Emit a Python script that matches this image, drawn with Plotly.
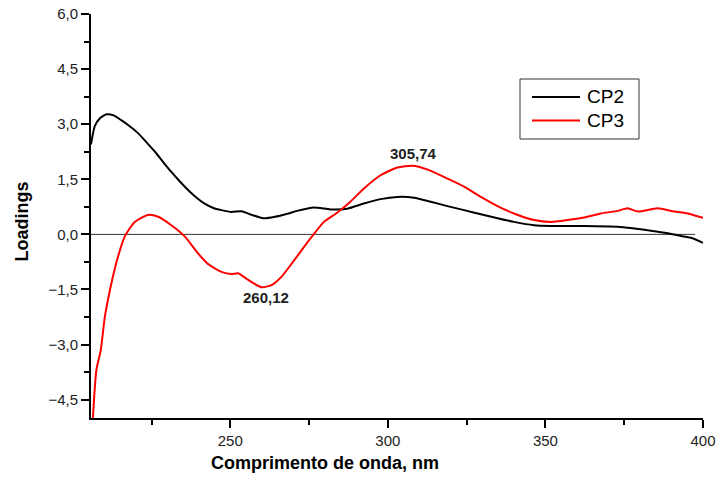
import plotly.graph_objects as go

# CP2 loadings
cp2_x = [205.8, 207, 208.5, 210.7, 213, 215.4, 218, 220.8, 223.5, 226.1, 228.7, 231.3, 234, 236.6,
         239.3, 242, 244.6, 247.2, 250.4, 253.6, 256.8, 260.5, 264.2, 268.4, 271.2, 276.5, 281.8,
         287.1, 292.4, 297.7, 303, 308.3, 313.6, 318.9, 324.2, 329.5, 334.8, 340, 346.4, 351.7,
         362.3, 372.9, 378.2, 383.5, 388.8, 394.1, 396.2, 400]
cp2_y = [2.45, 2.95, 3.15, 3.27, 3.24, 3.11, 2.95, 2.75, 2.50, 2.25, 1.97, 1.70, 1.44, 1.21,
         1.00, 0.83, 0.72, 0.66, 0.61, 0.63, 0.53, 0.44, 0.48, 0.57, 0.64, 0.73, 0.68,
         0.70, 0.84, 0.96, 1.02, 1.00, 0.89, 0.77, 0.66, 0.55, 0.44, 0.34, 0.25, 0.23,
         0.23, 0.21, 0.16, 0.10, 0.03, -0.06, -0.09, -0.23]

# CP3 loadings
cp3_x = [206.4, 207.5, 208.9, 210.2, 211.8, 213.9, 216.5, 219.7, 223.9, 227.1, 231.3, 235.6, 239.8,
         243, 247.2, 250.4, 252.5, 255.7, 259.9, 263.1, 266.3, 269.1, 272.3, 276, 279.7, 283.9,
         288.1, 292.4, 297.7, 303, 307.8, 312.5, 318.9, 324.2, 329.5, 334.8, 340, 346.4, 351.7,
         357, 362.3, 367.6, 372.9, 376.1, 379.3, 385.6, 390.9, 395.2, 400]
cp3_y = [-5.0, -3.70, -3.15, -2.24, -1.52, -0.75, -0.06, 0.34, 0.53, 0.48, 0.25, -0.06, -0.52,
         -0.81, -1.02, -1.08, -1.06, -1.24, -1.44, -1.38, -1.15, -0.84, -0.47, -0.05, 0.34, 0.59,
         0.89, 1.25, 1.61, 1.82, 1.87, 1.77, 1.52, 1.30, 1.02, 0.77, 0.57, 0.39, 0.34,
         0.39, 0.46, 0.57, 0.64, 0.71, 0.62, 0.71, 0.62, 0.57, 0.45]

zero_x = [205.8, 397.5]
zero_y = [0, 0]

peak_labels = ["260,12", "305,74"]
peak_x = [261.2, 308.2]
peak_y = [-1.73, 2.19]

series_names = ["CP2", "CP3"]
series_colors = ["black", "red"]

FONT = "Arial, Liberation Sans, sans-serif"

fig = go.Figure()
fig.add_trace(go.Scatter(x=zero_x, y=zero_y, mode="lines", line=dict(color="#333333", width=1),
                         showlegend=False, hoverinfo="skip"))
fig.add_trace(go.Scatter(x=cp2_x, y=cp2_y, mode="lines", name=series_names[0], showlegend=False,
                         line=dict(color=series_colors[0], width=2, shape="spline", smoothing=0.6)))
fig.add_trace(go.Scatter(x=cp3_x, y=cp3_y, mode="lines", name=series_names[1], showlegend=False,
                         line=dict(color=series_colors[1], width=2, shape="spline", smoothing=0.6)))

for t, x, y in zip(peak_labels, peak_x, peak_y):
    fig.add_annotation(x=x, y=y, text="<b>%s</b>" % t, showarrow=False,
                       font=dict(family=FONT, size=15, color="#222222"))

# axis titles
fig.add_annotation(x=0.382, y=-0.111, xref="paper", yref="paper", text="<b>Comprimento de onda, nm</b>",
                   showarrow=False, xanchor="center", yanchor="middle",
                   font=dict(family=FONT, size=18, color="black"))
fig.add_annotation(x=-0.112, y=0.4876, xref="paper", yref="paper", text="<b>Loadings</b>",
                   textangle=-90, showarrow=False, xanchor="center", yanchor="middle",
                   font=dict(family=FONT, size=18, color="black"))

# legend box (paper coordinates)
L, R, T, B = 91, 703, 14, 418
def px(x):
    return (x - L) / (R - L)
def py(y):
    return (B - y) / (B - T)

fig.add_shape(type="rect", xref="paper", yref="paper", x0=px(520), x1=px(639), y0=py(139), y1=py(79),
              line=dict(color="#333333", width=1), fillcolor="white", layer="above")
for i, (name, col) in enumerate(zip(series_names, series_colors)):
    yy = 97 + 23.5 * i
    fig.add_shape(type="line", xref="paper", yref="paper", x0=px(532), x1=px(580), y0=py(yy), y1=py(yy),
                  line=dict(color=col, width=2), layer="above")
    fig.add_annotation(x=px(585), y=py(yy), xref="paper", yref="paper", text=name, showarrow=False,
                       xanchor="left", yanchor="middle", font=dict(family=FONT, size=19, color="black"))

fig.update_layout(
    width=718, height=477,
    margin=dict(l=L, r=718 - R, t=T, b=477 - B),
    paper_bgcolor="white", plot_bgcolor="white",
    separators=",.",
    font=dict(family=FONT, color="#222222"),
    showlegend=False,
)
fig.update_xaxes(range=[205.8, 400], showgrid=False, zeroline=False, automargin=False,
                 showline=True, linecolor="black", linewidth=2,
                 ticks="outside", ticklen=8, tickwidth=2, tickcolor="black",
                 tickmode="linear", tick0=0, dtick=50,
                 minor=dict(ticks="outside", ticklen=5, tickwidth=2, tickcolor="black", dtick=25, tick0=0),
                 tickfont=dict(family=FONT, size=15, color="#222222"))
fig.update_yaxes(range=[-5, 6.001], showgrid=False, zeroline=False, automargin=False,
                 showline=True, linecolor="black", linewidth=2,
                 ticks="outside", ticklen=8, tickwidth=2, tickcolor="black",
                 tickmode="linear", tick0=0, dtick=1.5, tickformat=".1f",
                 minor=dict(ticks="outside", ticklen=5, tickwidth=2, tickcolor="black", dtick=0.75, tick0=0),
                 tickfont=dict(family=FONT, size=15, color="#222222"))

fig.write_html("out.html", config={"displayModeBar": False},
               post_script="document.body.style.margin='0';document.body.style.overflow='hidden';")
